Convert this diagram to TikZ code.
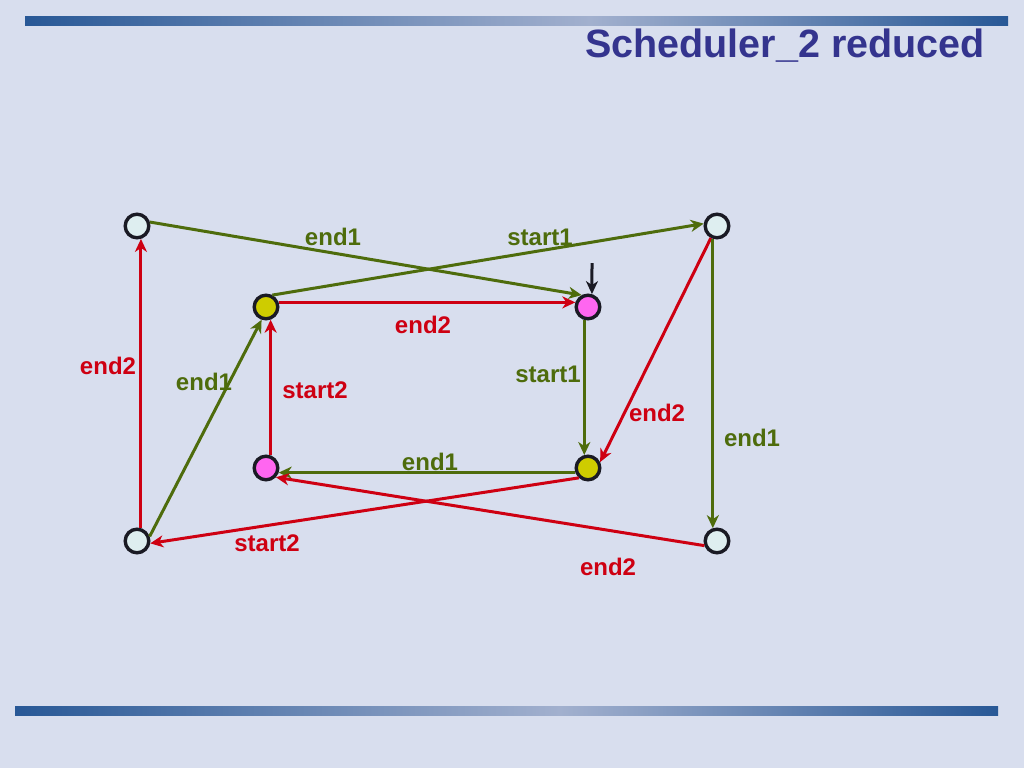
\documentclass[tikz,border=0pt]{standalone}
\usepackage{fontspec}
\setmainfont{Liberation Sans}
\usepackage{xcolor}
\usetikzlibrary{arrows.meta}
\definecolor{bgblue}{RGB}{216,222,238}
\definecolor{bardark}{RGB}{40,88,150}
\definecolor{barlight}{RGB}{162,176,206}
\definecolor{titleblue}{RGB}{52,52,142}
\definecolor{edgegreen}{RGB}{78,108,12}
\definecolor{edgered}{RGB}{206,0,18}
\definecolor{statecyan}{RGB}{222,238,240}
\definecolor{stateyellow}{RGB}{206,204,0}
\definecolor{statepink}{RGB}{255,102,240}
\definecolor{statering}{RGB}{26,26,36}

\begin{document}
\begin{tikzpicture}[x=1pt,y=-1pt]
\tikzstyle{every node}+=[inner sep=0pt]
\tikzstyle{state}=[circle,draw=statering,line width=3.4pt,minimum size=23.6pt]
\tikzstyle{gedge}=[draw=edgegreen,line width=3pt,-{Stealth[length=13pt,width=12pt,inset=4pt]}]
\tikzstyle{redge}=[gedge,draw=edgered]
\tikzstyle{glabel}=[text=edgegreen,font=\fontsize{24}{28}\selectfont\bfseries]
\tikzstyle{rlabel}=[glabel,text=edgered]
\fill [bgblue] (0,0) rectangle (1024,768);
\useasboundingbox (0,0) rectangle (1024,768);
\shade [left color=bardark,right color=barlight] (25,17) rectangle (590,26);
\shade [left color=barlight,right color=bardark] (590,17) rectangle (1008,26);
\shade [left color=bardark,right color=barlight] (15,706) rectangle (560,715);
\shade [left color=barlight,right color=bardark] (560,706) rectangle (998,715);
\node [anchor=base east,text=titleblue,font=\fontsize{39.5}{44}\selectfont\bfseries] (title) at (985,57) {Scheduler\_2 reduced};
% states
\node [state,fill=statecyan] (outTL) at (137,226) {};
\node [state,fill=statecyan] (outTR) at (717,226) {};
\node [state,fill=statecyan] (outBL) at (137,541) {};
\node [state,fill=statecyan] (outBR) at (717,541) {};
\node [state,fill=stateyellow] (inTL) at (266,307) {};
\node [state,fill=statepink] (inTR) at (588,307) {};
\node [state,fill=statepink] (inBL) at (266,468) {};
\node [state,fill=stateyellow] (inBR) at (588,468) {};
\coordinate (init) at (592,263);
% transitions
\draw [gedge,draw=statering] (init) -- (inTR.73);
\draw [gedge] (outTL.17) -- (inTR.118);
\draw (333,237) node [glabel] (lblA) {end1};
\draw [gedge] (inTL.62) -- (outTR.170);
\draw (540,237) node [glabel] (lblB) {start1};
\draw [redge] (inTL.20) -- (inTR.160);
\draw (423,325) node [rlabel] (lblC) {end2};
\draw [gedge] (inTR.254) -- (inBR.106);
\draw (548,374) node [glabel] (lblD) {start1};
\draw [redge] (outTR.243) -- (inBR.26);
\draw (657,413) node [rlabel] (lblE) {end2};
\draw [gedge] (outTR.252) -- (outBR.108);
\draw (752,438) node [glabel] (lblF) {end1};
\draw [gedge] (inBR.200) -- (inBL.340);
\draw (430,462) node [glabel] (lblG) {end1};
\draw [redge] (inBL.70) -- (inTL.290);
\draw (315,390) node [rlabel] (lblH) {start2};
\draw [gedge] (outBL.20) -- (inTL.251);
\draw (204,382) node [glabel] (lblI) {end1};
\draw [redge] (outBL.73) -- (outTL.287);
\draw (108,366) node [rlabel] (lblJ) {end2};
\draw [redge] (inBR.227) -- (outBL.350);
\draw (267,543) node [rlabel] (lblK) {start2};
\draw [redge] (outBR.200) -- (inBL.317);
\draw (608,567) node [rlabel] (lblL) {end2};
\end{tikzpicture}
\end{document}
